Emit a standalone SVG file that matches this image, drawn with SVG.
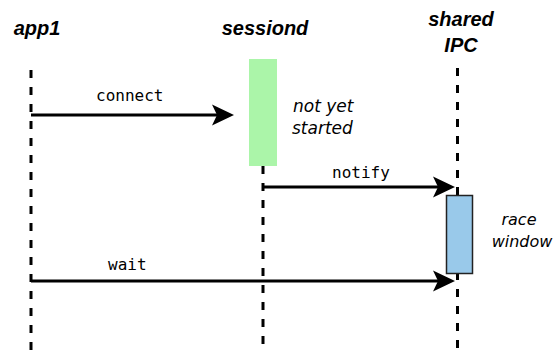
<svg xmlns="http://www.w3.org/2000/svg" width="554" height="352" viewBox="0 0 554 352">
<style>
.title{font-family:"Liberation Sans",Arial,sans-serif;font-weight:bold;font-style:italic;font-size:20px;fill:#000;text-anchor:middle}
.msg{font-family:"DejaVu Sans Mono",monospace;font-size:16px;fill:#000}
.note{font-family:"DejaVu Sans",sans-serif;font-style:oblique;font-size:17px;fill:#000}
.life{stroke:#000;stroke-width:3;stroke-dasharray:8 9;fill:none}
.arrow{stroke:#000;stroke-width:3;fill:none;marker-end:url(#ah)}
</style>
<defs>
<marker id="ah" markerUnits="userSpaceOnUse" markerWidth="22" markerHeight="22" viewBox="0 0 22 22" refX="16" refY="11" orient="auto">
<path d="M0,0.5 L22,11 L0,21.5 L5,11 Z" fill="#000"/>
</marker>
</defs>
<rect width="554" height="352" fill="#fff"/>
<g id="app1">
<text class="title" x="37" y="35">app1</text>
<line class="life" x1="31" y1="70" x2="31" y2="352"/>
</g>
<g id="sessiond">
<text class="title" x="265" y="35">sessiond</text>
<line class="life" x1="263" y1="166" x2="263" y2="352"/>
<rect x="249" y="59" width="28" height="107" fill="#abf5a9"/>
<text class="note" x="293" y="112">not yet</text>
<text class="note" x="292" y="134">started</text>
</g>
<g id="sharedIPC">
<text class="title" x="461" y="26">shared</text>
<text class="title" x="461" y="52">IPC</text>
<line class="life" x1="457.5" y1="68" x2="457.5" y2="352"/>
<rect x="446.5" y="195.5" width="26" height="78" fill="#99c9ea" stroke="#222" stroke-width="1.5"/>
<text class="note" x="519" y="225" text-anchor="middle" style="font-size:16px">race</text>
<text class="note" x="522" y="247" text-anchor="middle" style="font-size:16px">window</text>
</g>
<g id="connectors">
<line class="arrow" x1="31" y1="115" x2="228" y2="115"/>
<text class="msg" x="96" y="101">connect</text>
<line class="arrow" x1="263" y1="187" x2="449" y2="187"/>
<text class="msg" x="332" y="178">notify</text>
<line class="arrow" x1="31" y1="281" x2="449" y2="281"/>
<text class="msg" x="108" y="270">wait</text>
</g>
</svg>
